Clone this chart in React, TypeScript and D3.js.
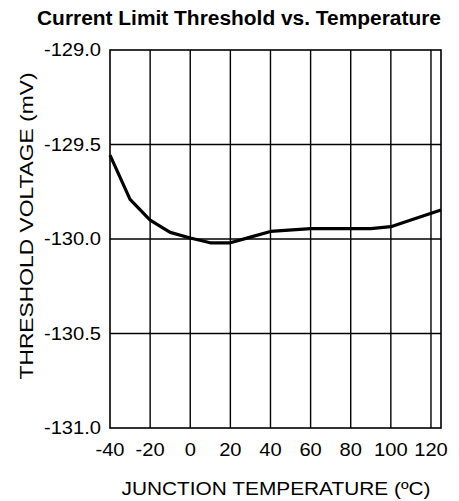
import React from "react";
import * as d3 from "d3";

const temps = [-40, -30, -20, -10, 0, 10, 20, 30, 40, 60, 80, 90, 100, 110, 125];
const volts = [-129.556, -129.79, -129.9, -129.965, -129.995, -130.02, -130.02, -129.99, -129.96, -129.945, -129.945, -129.945, -129.935, -129.9, -129.847];
const xTicks = [-40, -20, 0, 20, 40, 60, 80, 100, 120];
const yTicks = [-129.0, -129.5, -130.0, -130.5, -131.0];

const W = 459, H = 501;
const L = 110, R = 441, T = 50, B = 428;
const FONT = "Liberation Sans, Arial, Helvetica, sans-serif";
const SX = 1.15;

export default function App() {
  const x = d3.scaleLinear().domain([-40, 125]).range([L, R]);
  const y = d3.scaleLinear().domain([-131, -129]).range([B, T]);
  const line = d3.line<number>().x((_, i) => x(temps[i])).y((d) => y(d));
  return (
    <svg width={W} height={H} style={{ position: "absolute", left: 0, top: 0, background: "#fff" }}>
      <rect x={0} y={0} width={W} height={H} fill="#fff" />
      <text x={239} y={25} textAnchor="middle" fontFamily={FONT} fontWeight="bold" fontSize={19.5}
        textLength={404} lengthAdjust="spacingAndGlyphs">Current Limit Threshold vs. Temperature</text>
      {xTicks.slice(1).map((t) => (
        <line key={"vx" + t} x1={x(t)} x2={x(t)} y1={T} y2={B} stroke="#000" strokeWidth={1.4} />
      ))}
      {yTicks.slice(1, -1).map((t) => (
        <line key={"hy" + t} x1={L} x2={R} y1={y(t)} y2={y(t)} stroke="#000" strokeWidth={1.4} />
      ))}
      <rect x={L} y={T} width={R - L} height={B - T} fill="none" stroke="#000" strokeWidth={1.6} />
      <path d={line(volts) || ""} fill="none" stroke="#000" strokeWidth={3.2} strokeLinejoin="round" />
      {xTicks.map((t) => (
        <text key={"xt" + t} transform={`translate(${x(t)},456) scale(${SX},1)`} textAnchor="middle"
          fontFamily={FONT} fontSize={17.5}>{t}</text>
      ))}
      {yTicks.map((t) => (
        <text key={"yt" + t} transform={`translate(101,${y(t) + 6}) scale(${SX},1)`} textAnchor="end"
          fontFamily={FONT} fontSize={17.5}>{t.toFixed(1)}</text>
      ))}
      <text x={276} y={495} textAnchor="middle" fontFamily={FONT} fontSize={17.5}
        textLength={309} lengthAdjust="spacingAndGlyphs">JUNCTION TEMPERATURE (ºC)</text>
      <text transform="translate(33,226) rotate(-90)" textAnchor="middle" fontFamily={FONT} fontSize={17.5}
        textLength={307} lengthAdjust="spacingAndGlyphs">THRESHOLD VOLTAGE (mV)</text>
    </svg>
  );
}
